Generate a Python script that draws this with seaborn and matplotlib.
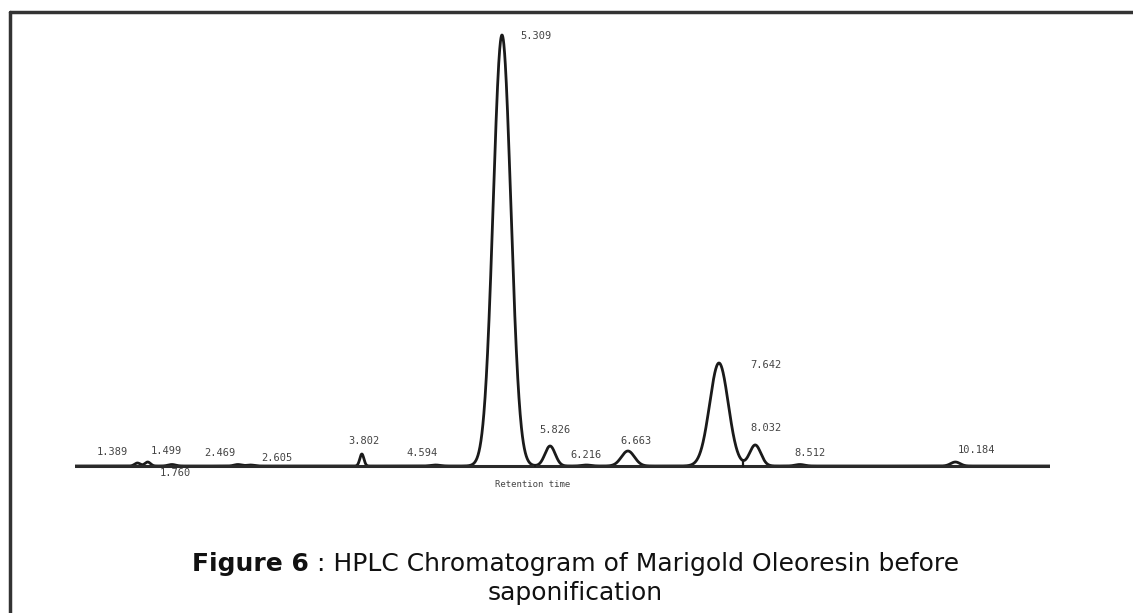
import numpy as np
import pandas as pd
import matplotlib
matplotlib.use("Agg")
import matplotlib.pyplot as plt
from matplotlib.lines import Line2D
import seaborn as sns

# ---- data (peak table) ----
peak_labels = ["1.389", "1.499", "1.760", "2.469", "2.605", "3.802", "4.594",
               "5.309", "5.826", "6.216", "6.663", "7.642", "8.032", "8.512", "10.184"]
retention_times = [1.389, 1.499, 1.760, 2.469, 2.605, 3.802, 4.594,
                   5.309, 5.826, 6.216, 6.663, 7.642, 8.032, 8.512, 10.184]
peak_heights = [3, 4, 1.5, 1.5, 1, 12, 1, 431, 20, 1, 15, 103, 21, 1.5, 4]
peak_sigmas = [0.03, 0.03, 0.04, 0.04, 0.04, 0.022, 0.05,
               0.095, 0.055, 0.05, 0.07, 0.1, 0.06, 0.05, 0.05]
drop_line_times = [5.664, 7.900]

caption_bold = "Figure 6"
caption_rest = " : HPLC Chromatogram of Marigold Oleoresin before"
caption_line2 = "saponification"
x_label = "Retention time"

# label offsets (pixels) relative to peak apex
label_dx = [-25, 19, 3, -18, 26, 2, -13, 34, 5, 0, 8, 47, 11, 10, 21]
label_dy = [11, 11, -9, 12, 7, 13, 12, -1, 16, 10, 10, -2, 17, 12, 12]

# ---- figure ----
sns.set_style("white")
plt.rcParams["font.family"] = ["DejaVu Sans"]
W, H = 1133, 613
fig = plt.figure(figsize=(W / 100, H / 100), dpi=100)

ax_l, ax_r, ax_b, ax_t = 75, 1050, 470, 30
ax = fig.add_axes([ax_l / W, 1 - ax_b / H, (ax_r - ax_l) / W, (ax_b - ax_t) / H])
px_per_min = 93.0
t0 = 5.309 - (502 - ax_l) / px_per_min
t1 = 5.309 + (ax_r - 502) / px_per_min

t = np.linspace(t0, t1, 4000)
sig = np.zeros_like(t)
for rt, h, s in zip(retention_times, peak_heights, peak_sigmas):
    sig += h * np.exp(-0.5 * ((t - rt) / s) ** 2)
df = pd.DataFrame({"time": t, "signal": sig})

sns.lineplot(data=df, x="time", y="signal", ax=ax, color="#1a1a1a", linewidth=2.0)
ax.axhline(0, color="#2a2a2a", linewidth=2.2)

for dt in drop_line_times:
    v = np.interp(dt, t, sig)
    ax.plot([dt, dt], [0, v], color="#1a1a1a", linewidth=1.6)

ax.set_xlim(t0, t1)
ax.set_ylim(-4, 436)
ax.set_xlabel("")
ax.set_ylabel("")
ax.set_xticks([])
ax.set_yticks([])
sns.despine(ax=ax, left=True, bottom=True)

for lab, rt, h, dx, dy in zip(peak_labels, retention_times, peak_heights, label_dx, label_dy):
    ax.annotate(lab, xy=(rt, h), xytext=(dx, dy), textcoords="offset pixels",
                ha="center", va="center", fontsize=7.5, family="DejaVu Sans Mono",
                color="#444444")

ax.annotate(x_label, xy=(0.469, 0), xycoords="axes fraction", xytext=(0, -10),
            textcoords="offset pixels", ha="center", va="top", fontsize=6.5,
            family="DejaVu Sans Mono", color="#444444")

# caption (line 1 centred as a whole: bold part + regular part)
cap_y1 = 1 - 564 / H
cap_y2 = 1 - 593 / H
renderer = fig.canvas.get_renderer()
t_bold = fig.text(0, cap_y1, caption_bold, fontsize=18, fontweight="bold",
                  ha="left", va="center", color="#111111")
t_rest = fig.text(0, cap_y1, caption_rest, fontsize=18, ha="left", va="center",
                  color="#111111")
wb = t_bold.get_window_extent(renderer).width
wr = t_rest.get_window_extent(renderer).width
x_start = 576 - (wb + wr) / 2
t_bold.set_x(x_start / W)
t_rest.set_x((x_start + wb) / W)
fig.text(575 / W, cap_y2, caption_line2, fontsize=18, ha="center", va="center",
         color="#111111")

# frame lines (left and top)
fig.add_artist(Line2D([10 / W, 10 / W], [0, 1 - 12 / H], color="#333333", linewidth=2.5))
fig.add_artist(Line2D([10 / W, 1], [1 - 12 / H, 1 - 12 / H], color="#333333", linewidth=2.5))

fig.savefig("out.png", dpi=100)
